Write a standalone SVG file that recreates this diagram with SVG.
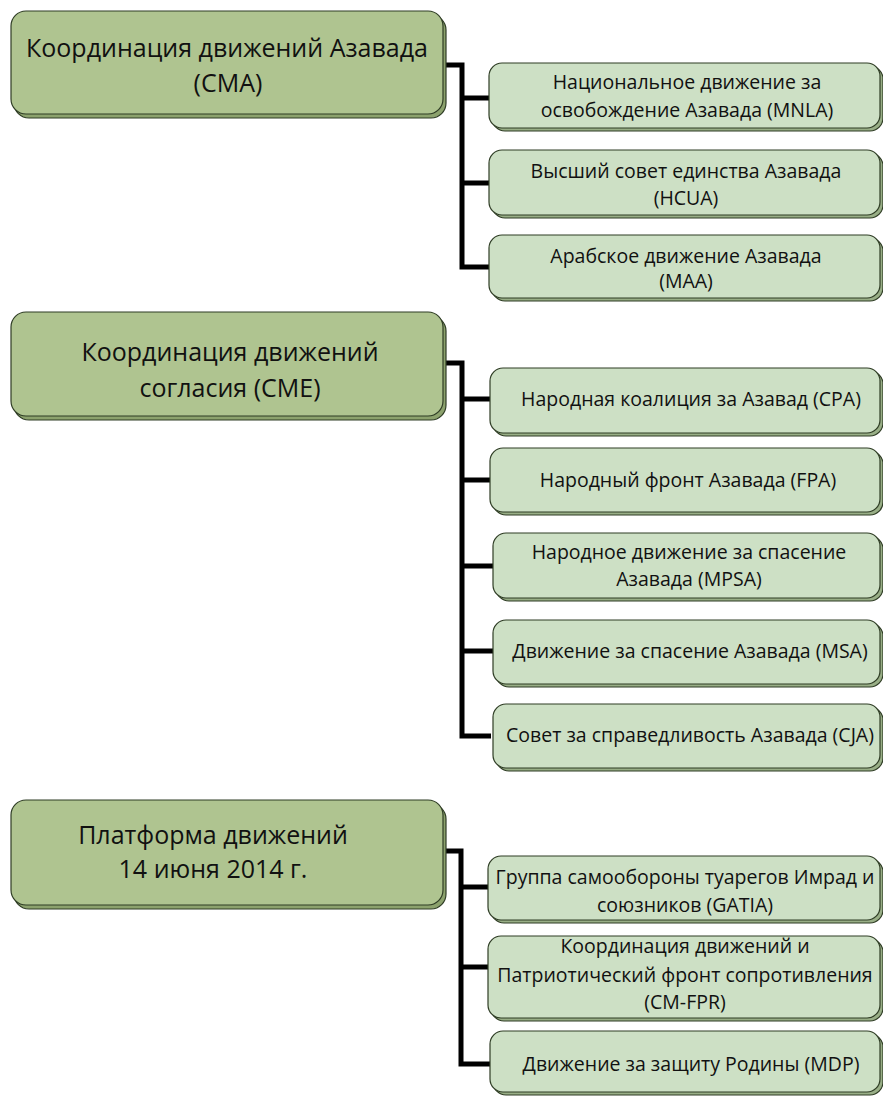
<svg xmlns="http://www.w3.org/2000/svg" width="883" height="1097" viewBox="0 0 883 1097">
<style>
.ms{fill:#8ca26d;stroke:#2f3d25;stroke-width:1.2}
.mf{fill:#afc490;stroke:#2f3d25;stroke-width:1.2}
.ss{fill:#98ae86;stroke:#2f3d25;stroke-width:1.2}
.sf{fill:#cde0c5;stroke:#2f3d25;stroke-width:1.2}
.mt{font-family:"Open Sans","Noto Sans",sans-serif;font-size:25px;fill:#111;text-anchor:middle}
.st{font-family:"Open Sans","Noto Sans",sans-serif;font-size:19.5px;fill:#111;text-anchor:middle}
.c{fill:none;stroke:#000;stroke-width:5;stroke-linejoin:miter}
</style>
<rect width="883" height="1097" fill="#fff"/>
<g id="connectors">
<path class="c" d="M443 65 H462 V267 H490 M462 98 H490 M462 183 H490"/>
<path class="c" d="M443 363 H462 V736 H491 M462 399 H491 M462 480 H491 M462 566 H493 M462 651 H493"/>
<path class="c" d="M443 851 H461 V1064 H490 M461 887 H489 M461 967 H489"/>
</g>
<g id="cma">
<rect class="ms" x="14" y="15" width="432" height="103" rx="15"/>
<rect class="mf" x="11" y="11" width="432" height="103" rx="15"/>
<text class="mt" x="227" y="57">Координация движений Азавада</text>
<text class="mt" x="228" y="92">(CMA)</text>
</g>
<g id="mnla">
<rect class="ss" x="492" y="66" width="391" height="65" rx="13"/>
<rect class="sf" x="489" y="63" width="391" height="65" rx="13"/>
<text class="st" x="687" y="89">Национальное движение за</text>
<text class="st" x="687" y="117">освобождение Азавада (MNLA)</text>
</g>
<g id="hcua">
<rect class="ss" x="492" y="153" width="391" height="65" rx="13"/>
<rect class="sf" x="489" y="150" width="391" height="65" rx="13"/>
<text class="st" x="686" y="178">Высший совет единства Азавада</text>
<text class="st" x="686" y="205">(HCUA)</text>
</g>
<g id="maa">
<rect class="ss" x="492" y="238" width="391" height="63" rx="13"/>
<rect class="sf" x="489" y="235" width="391" height="63" rx="13"/>
<text class="st" x="686" y="263">Арабское движение Азавада</text>
<text class="st" x="686" y="288">(MAA)</text>
</g>
<g id="cme">
<rect class="ms" x="14" y="316" width="432" height="104" rx="15"/>
<rect class="mf" x="11" y="312" width="432" height="104" rx="15"/>
<text class="mt" x="230" y="361">Координация движений</text>
<text class="mt" x="230" y="397">согласия (CME)</text>
</g>
<g id="cpa">
<rect class="ss" x="493" y="371" width="390" height="65" rx="13"/>
<rect class="sf" x="490" y="368" width="390" height="65" rx="13"/>
<text class="st" x="691" y="406">Народная коалиция за Азавад (CPA)</text>
</g>
<g id="fpa">
<rect class="ss" x="493" y="451" width="390" height="64" rx="13"/>
<rect class="sf" x="490" y="448" width="390" height="64" rx="13"/>
<text class="st" x="688" y="487">Народный фронт Азавада (FPA)</text>
</g>
<g id="mpsa">
<rect class="ss" x="496" y="536" width="387" height="65" rx="13"/>
<rect class="sf" x="493" y="533" width="387" height="65" rx="13"/>
<text class="st" x="689" y="559">Народное движение за спасение</text>
<text class="st" x="689" y="586">Азавада (MPSA)</text>
</g>
<g id="msa">
<rect class="ss" x="496" y="623" width="387" height="64" rx="13"/>
<rect class="sf" x="493" y="620" width="387" height="64" rx="13"/>
<text class="st" x="690" y="658">Движение за спасение Азавада (MSA)</text>
</g>
<g id="cja">
<rect class="ss" x="496" y="707" width="387" height="64" rx="13"/>
<rect class="sf" x="493" y="704" width="387" height="64" rx="13"/>
<text class="st" x="690" y="742">Совет за справедливость Азавада (CJA)</text>
</g>
<g id="platform">
<rect class="ms" x="14" y="804" width="432" height="105" rx="15"/>
<rect class="mf" x="11" y="800" width="432" height="105" rx="15"/>
<text class="mt" x="213" y="844">Платформа движений</text>
<text class="mt" x="213" y="878">14 июня 2014 г.</text>
</g>
<g id="gatia">
<rect class="ss" x="491" y="859" width="392" height="64" rx="13"/>
<rect class="sf" x="488" y="856" width="392" height="64" rx="13"/>
<text class="st" x="685" y="884">Группа самообороны туарегов Имрад и</text>
<text class="st" x="685" y="912">союзников (GATIA)</text>
</g>
<g id="cmfpr">
<rect class="ss" x="491" y="939" width="392" height="82" rx="13"/>
<rect class="sf" x="488" y="936" width="392" height="82" rx="13"/>
<text class="st" x="685" y="953">Координация движений и</text>
<text class="st" x="685" y="982">Патриотический фронт сопротивления</text>
<text class="st" x="685" y="1009">(CM-FPR)</text>
</g>
<g id="mdp">
<rect class="ss" x="493" y="1034" width="390" height="61" rx="13"/>
<rect class="sf" x="490" y="1031" width="390" height="61" rx="13"/>
<text class="st" x="691" y="1071">Движение за защиту Родины (MDP)</text>
</g>
</svg>
